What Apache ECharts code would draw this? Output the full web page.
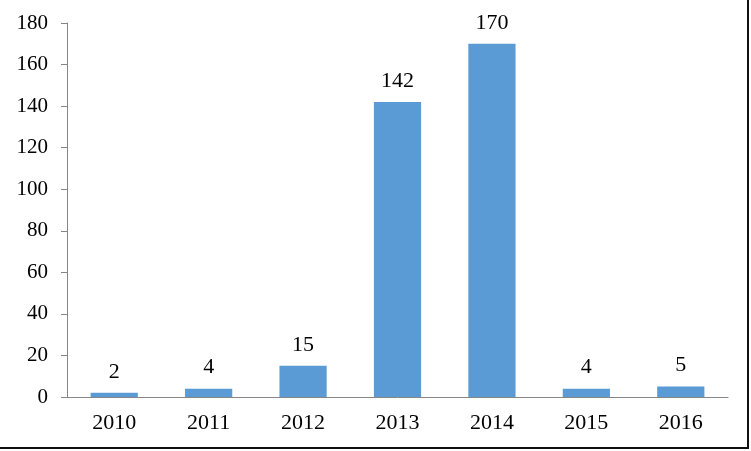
<!DOCTYPE html>
<html>
<head>
<meta charset="utf-8">
<script src="https://cdn.jsdelivr.net/npm/echarts@6/dist/echarts.min.js"></script>
<style>
html,body{margin:0;padding:0;background:#fff;}
#c{width:751px;height:451px;position:relative;}
#frame{position:absolute;left:-2px;top:-2px;width:749px;height:449px;border-right:2px solid #111;border-bottom:2px solid #111;pointer-events:none;}
</style>
</head>
<body>
<div id="c"></div>
<script>
const categories = ['2010','2011','2012','2013','2014','2015','2016'];
const values = [2, 4, 15, 142, 170, 4, 5];
const yTicks = {min: 0, max: 180, interval: 20};

const chart = echarts.init(document.getElementById('c'), null, {renderer: 'canvas'});
const font = '"Liberation Serif","Times New Roman",serif';
chart.setOption({
  animation: false,
  backgroundColor: '#fff',
  grid: {left: 67, right: 23, top: 23, bottom: 54},
  xAxis: {
    type: 'category',
    data: categories,
    axisLine: {lineStyle: {color: '#868686', width: 1}},
    axisTick: {show: false},
    axisLabel: {color: '#000', fontFamily: font, fontSize: 22, margin: 15}
  },
  yAxis: {
    type: 'value',
    min: yTicks.min, max: yTicks.max, interval: yTicks.interval,
    axisLine: {show: true, lineStyle: {color: '#868686', width: 1}},
    axisTick: {show: true, length: 6, lineStyle: {color: '#868686'}},
    splitLine: {show: false},
    axisLabel: {color: '#000', fontFamily: font, fontSize: 21, margin: 19}
  },
  series: [{
    type: 'bar',
    data: values,
    barWidth: '50%',
    itemStyle: {color: '#5B9BD5'},
    label: {show: true, position: 'top', distance: 10, color: '#000', fontFamily: font, fontSize: 22}
  }]
});
</script>
<div id="frame"></div>
</body>
</html>
